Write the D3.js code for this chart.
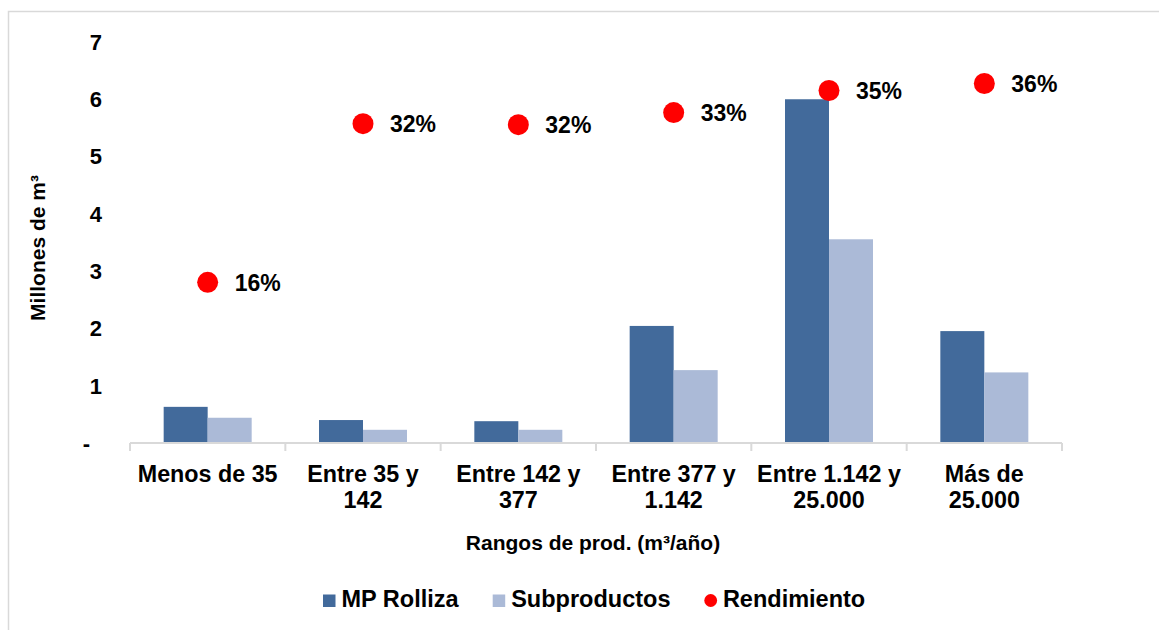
<!DOCTYPE html>
<html>
<head>
<meta charset="utf-8">
<script src="https://cdn.jsdelivr.net/npm/d3@7"></script>
<style>
  html, body { margin: 0; padding: 0; background: #fff; }
  svg { display: block; font-family: "Liberation Sans", Arial, sans-serif; font-weight: bold; }
</style>
</head>
<body>
<svg id="chart" width="1159" height="630"></svg>
<script>
// ---- data ----
const categories = ["Menos de 35", "Entre 35 y\n142", "Entre 142 y\n377", "Entre 377 y\n1.142", "Entre 1.142 y\n25.000", "Más de\n25.000"];
const seriesNames = ["MP Rolliza", "Subproductos"];
const mpRolliza = [0.63, 0.40, 0.38, 2.04, 5.99, 1.95];
const subproductos = [0.44, 0.23, 0.23, 1.27, 3.55, 1.23];
const rendimiento = [0.160, 0.318, 0.317, 0.329, 0.351, 0.358];
const rendimientoLabels = ["16%", "32%", "32%", "33%", "35%", "36%"];
const yTicks = [0, 1, 2, 3, 4, 5, 6, 7];
const lineName = "Rendimiento";

const colors = { "MP Rolliza": "#426A9B", "Subproductos": "#ABBAD7", "Rendimiento": "#FF0000" };

const svg = d3.select("#chart");

// outer frame
svg.append("rect").attr("x", 8.5).attr("y", 11.5).attr("width", 1200).attr("height", 700)
  .attr("fill", "none").attr("stroke", "#D9D9D9").attr("stroke-width", 1.5);

const plot = { left: 130, right: 1062, top: 41.3, bottom: 443 };

const x0 = d3.scaleBand().domain(categories).range([plot.left, plot.right]).padding(0);
const bw = x0.bandwidth();
const groupW = 88;
const x1 = d3.scaleBand().domain(seriesNames).range([(bw - groupW) / 2, (bw + groupW) / 2]).padding(0);
const y = d3.scaleLinear().domain([0, 7]).range([plot.bottom, plot.top]);
const y2 = d3.scaleLinear().domain([0, 0.4]).range([plot.bottom, plot.top]);

// bars
const barData = categories.map((c, i) => ({ c, vals: [
  { s: "MP Rolliza", v: mpRolliza[i] },
  { s: "Subproductos", v: subproductos[i] }
]}));
const groups = svg.append("g").selectAll("g").data(barData).join("g")
  .attr("transform", d => `translate(${x0(d.c)},0)`);
groups.selectAll("rect").data(d => d.vals).join("rect")
  .attr("x", d => x1(d.s))
  .attr("width", x1.bandwidth())
  .attr("y", d => y(d.v))
  .attr("height", d => y(0) - y(d.v))
  .attr("fill", d => colors[d.s]);

// x axis line and boundary ticks
const xAxisG = svg.append("g");
xAxisG.append("line").attr("x1", plot.left).attr("x2", plot.right)
  .attr("y1", y(0)).attr("y2", y(0)).attr("stroke", "#D9D9D9").attr("stroke-width", 2);
const bounds = categories.map(c => x0(c)).concat([x0(categories[categories.length - 1]) + bw]);
xAxisG.selectAll("line.tk").data(bounds).join("line").attr("class", "tk")
  .attr("x1", d => d).attr("x2", d => d).attr("y1", y(0)).attr("y2", y(0) + 8)
  .attr("stroke", "#D9D9D9").attr("stroke-width", 2);

// category labels
const catLabels = svg.append("g").selectAll("text").data(categories).join("text")
  .attr("x", d => x0(d) + bw / 2)
  .attr("y", 481.7)
  .attr("text-anchor", "middle")
  .attr("font-size", 23.3)
  .attr("fill", "#000");
catLabels.each(function(d) {
  const lines = d.split("\n");
  const t = d3.select(this);
  lines.forEach((ln, k) => {
    t.append("tspan").attr("x", x0(d) + bw / 2).attr("dy", k === 0 ? 0 : 26.6).text(ln);
  });
});

// y axis
const yAxis = d3.axisLeft(y).tickValues(yTicks).tickSize(0).tickPadding(0)
  .tickFormat(d => d === 0 ? "-" : d3.format("d")(d));
const yAxisG = svg.append("g").attr("transform", `translate(102,0)`).call(yAxis);
yAxisG.select(".domain").remove();
yAxisG.selectAll("text").attr("font-size", 22).attr("font-family", "Liberation Sans, Arial, sans-serif")
  .attr("font-weight", "bold").attr("fill", "#000").attr("dy", "0.35em");
yAxisG.selectAll(".tick").filter(d => d === 0).select("text").attr("dx", -12);

// y title
svg.append("text")
  .attr("transform", `translate(45,248) rotate(-90)`)
  .attr("text-anchor", "middle")
  .attr("font-size", 21)
  .attr("fill", "#000")
  .text("Millones de m³");

// x title
svg.append("text")
  .attr("x", 593).attr("y", 550)
  .attr("text-anchor", "middle")
  .attr("font-size", 21)
  .attr("fill", "#000")
  .text("Rangos de prod. (m³/año)");

// rendimiento dots
const dots = svg.append("g");
dots.selectAll("circle").data(rendimiento).join("circle")
  .attr("cx", (d, i) => x0(categories[i]) + bw / 2)
  .attr("cy", d => y2(d))
  .attr("r", 10.5)
  .attr("fill", colors["Rendimiento"]);
dots.selectAll("text").data(rendimiento).join("text")
  .attr("x", (d, i) => x0(categories[i]) + bw / 2 + 27)
  .attr("y", d => y2(d))
  .attr("dy", "0.36em")
  .attr("font-size", 23)
  .attr("fill", "#000")
  .text((d, i) => rendimientoLabels[i]);

// legend
const legend = svg.append("g");
const legendItems = [
  { name: "MP Rolliza", type: "rect", x: 323 },
  { name: "Subproductos", type: "rect", x: 492.7 },
  { name: lineName, type: "circle", x: 704.4 }
];
legendItems.forEach(it => {
  if (it.type === "rect") {
    legend.append("rect").attr("x", it.x).attr("y", 594.5).attr("width", 12.5).attr("height", 12.5)
      .attr("fill", colors[it.name]);
  } else {
    legend.append("circle").attr("cx", it.x + 6.3).attr("cy", 600.5).attr("r", 6.4)
      .attr("fill", colors[it.name]);
  }
  legend.append("text").attr("x", it.x + 18.5).attr("y", 607.3)
    .attr("font-size", 23.5).attr("fill", "#000").text(it.name);
});
</script>
</body>
</html>
